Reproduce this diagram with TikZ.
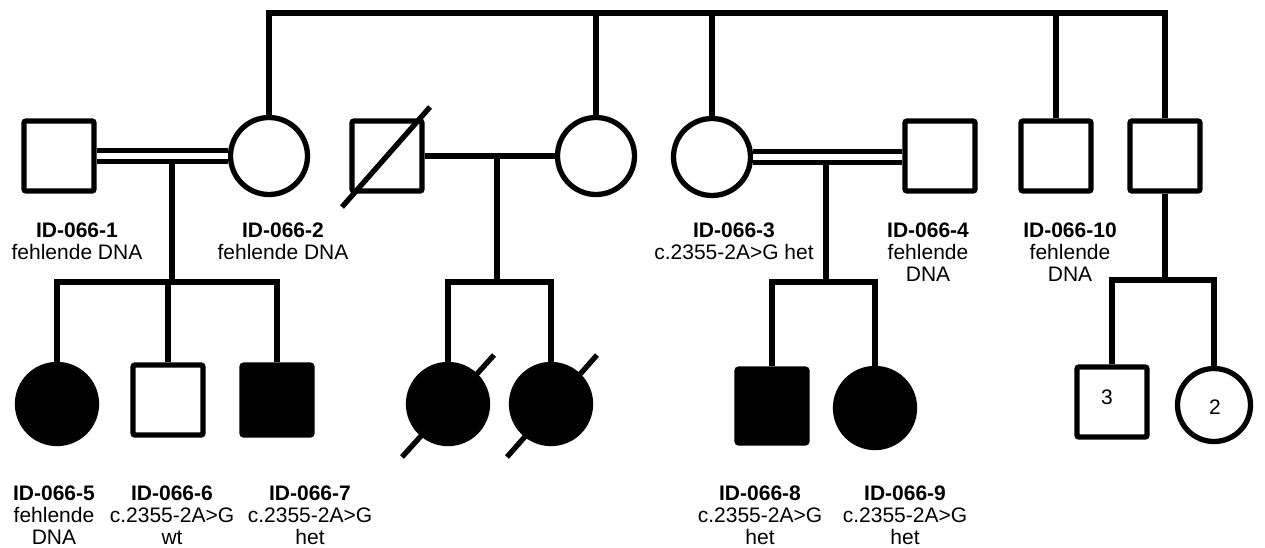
\documentclass[tikz,border=0pt]{standalone}
\usepackage{fontspec}
\setmainfont{Liberation Sans}
\begin{document}
\begin{tikzpicture}[x=1pt,y=-1pt]
\tikzset{
 sq/.style={draw, rectangle, rounded corners=2pt, minimum size=70pt, inner sep=0pt, fill=white, line width=5.3pt, font=\fontsize{21}{22}\selectfont},
 ci/.style={draw, circle, minimum size=77pt, inner sep=0pt, fill=white, line width=5.3pt, font=\fontsize{21}{22}\selectfont},
 aff/.style={fill=black},
 lab/.style={align=center, inner sep=0pt, font=\fontsize{21}{22}\selectfont},
 conn/.style={line width=5.3pt},
 dbl/.style={line width=5pt, double=white, double distance=5.5pt},
 dec/.style={line width=5.3pt},
}
\useasboundingbox (0,0) rectangle (1265,547);
% generation II
\node[sq] (g1) at (59,156) {};
\node[ci] (g2) at (269,156) {};
\node[sq] (g3) at (387,156) {};
\node[ci] (g4) at (596,156) {};
\node[ci] (g5) at (712,157) {};
\node[sq] (g6) at (940,156) {};
\node[sq] (g7) at (1056,156) {};
\node[sq] (g8) at (1165,156) {};
% generation III
\node[ci,minimum size=79pt,aff] (c5) at (57,404) {};
\node[sq] (c6) at (168,400) {};
\node[sq,aff] (c7) at (277,400) {};
\node[ci,minimum size=79pt,aff] (d1) at (448,404) {};
\node[ci,minimum size=79pt,aff] (d2) at (551,404) {};
\node[sq,aff,minimum height=74pt] (c8) at (772,406) {};
\node[ci,minimum size=79pt,aff] (c9) at (875,408) {};
\node[sq] (s3) at (1112,402) {};
\node[ci,minimum size=73pt] (s2) at (1214,405) {};
\node[lab] (t3) at (1107,397) {3};
\node[lab] (t2) at (1215,407) {2};
% top sibship
\coordinate (tl) at (269,13);
\coordinate (tr) at (1165,13);
\draw[conn] (g2.north) -- (tl) -- (tr) -- (g8.north);
\draw[conn] (g4.north) -- (g4.north |- tl);
\draw[conn] (g5.north) -- (g5.north |- tl);
\draw[conn] (g7.north) -- (g7.north |- tl);
% descents
\coordinate (m1) at (172,157);
\coordinate (m2) at (497,157);
\coordinate (m3) at (826,157);
\coordinate (sib1) at (172,282);
\coordinate (sib2) at (497,282);
\coordinate (sib3) at (826,282);
\coordinate (sib4) at (1165,280);
\draw[conn] (m1) -- (sib1);
\draw[conn] (m2) -- (sib2);
\draw[conn] (m3) -- (sib3);
\draw[conn] (c5.north) -- (c5.north |- sib1) -- (c7.north |- sib1) -- (c7.north);
\draw[conn] (c6.north) -- (c6.north |- sib1);
\draw[conn] (d1.north) -- (d1.north |- sib2) -- (d2.north |- sib2) -- (d2.north);
\draw[conn] (c8.north) -- (c8.north |- sib3) -- (c9.north |- sib3) -- (c9.north);
\draw[conn] (g8.south) -- (sib4);
\draw[conn] (s3.north) -- (s3.north |- sib4) -- (s2.north |- sib4) -- (s2.north);
% marriages
\draw[dbl] (g1.east) -- (g2.west);
\draw[conn] (g3.east) -- (g4.west);
\draw[dbl] (g5.east) -- (g5.east -| g6.west);
% deceased
\draw[dec] (342,207) -- (430,107);
\draw[dec] (402,457) -- (494,355);
\draw[dec] (507,457) -- (597,355);
% labels
\node[lab] (l1) at (77,241) {\textbf{ID-066-1}\\fehlende DNA};
\node[lab] (l2) at (283,241) {\textbf{ID-066-2}\\fehlende DNA};
\node[lab] (l3) at (734,241) {\textbf{ID-066-3}\\c.2355-2A>G het};
\node[lab] (l4) at (928,252) {\textbf{ID-066-4}\\fehlende\\DNA};
\node[lab] (l10) at (1070,252) {\textbf{ID-066-10}\\fehlende\\DNA};
\node[lab] (l5) at (54,515) {\textbf{ID-066-5}\\fehlende\\DNA};
\node[lab] (l6) at (172,515) {\textbf{ID-066-6}\\c.2355-2A>G\\wt};
\node[lab] (l7) at (310,515) {\textbf{ID-066-7}\\c.2355-2A>G\\het};
\node[lab] (l8) at (760,515) {\textbf{ID-066-8}\\c.2355-2A>G\\het};
\node[lab] (l9) at (905,515) {\textbf{ID-066-9}\\c.2355-2A>G\\het};
\end{tikzpicture}
\end{document}
